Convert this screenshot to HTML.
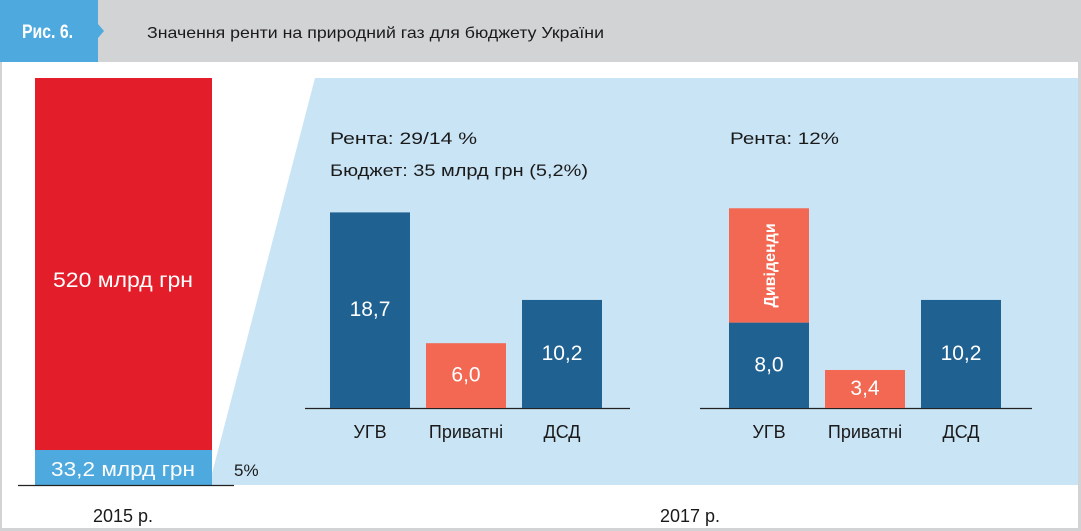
<!DOCTYPE html>
<html><head><meta charset="utf-8"><style>
html,body{margin:0;padding:0;background:#fff}
svg{display:block;font-family:"Liberation Sans",sans-serif}
</style></head><body>
<svg width="1081" height="531" viewBox="0 0 1081 531" id="chart">
<rect x="0" y="0" width="1081" height="531" fill="#fff"/>
<rect x="0" y="62" width="2" height="469" fill="#d2d3d5"/>
<rect x="1078" y="62" width="3" height="469" fill="#d2d3d5"/>
<rect x="0" y="528" width="1081" height="3" fill="#d2d3d5"/>
<rect x="0" y="0" width="1081" height="62" fill="#d2d3d5"/>
<polygon points="0,0 98,0 98,24 104,31 98,38 98,62 0,62" fill="#4eaade"/>
<text x="22" y="38" font-size="19" font-weight="bold" fill="#fff" textLength="51" lengthAdjust="spacingAndGlyphs">Рис. 6.</text>
<text x="147" y="38" font-size="16" fill="#1a1a1a" textLength="457" lengthAdjust="spacingAndGlyphs">Значення ренти на природний газ для бюджету України</text>
<polygon points="315,78 1078,78 1078,485 209,485" fill="#c9e4f5"/>
<rect x="35" y="78" width="177" height="372" fill="#e31e2a"/>
<rect x="35" y="450" width="177" height="35" fill="#4eaade"/>
<line x1="18" y1="485.5" x2="234" y2="485.5" stroke="#222" stroke-width="1.3"/>
<text x="123" y="287" font-size="21" fill="#fff" text-anchor="middle" textLength="140" lengthAdjust="spacingAndGlyphs">520 млрд грн</text>
<text x="123" y="476" font-size="20" fill="#fff" text-anchor="middle" textLength="144" lengthAdjust="spacingAndGlyphs">33,2 млрд грн</text>
<text x="234" y="476" font-size="17" fill="#1a1a1a">5%</text>
<text x="123" y="522" font-size="18" fill="#1a1a1a" text-anchor="middle">2015 р.</text>
<text x="690" y="522" font-size="18" fill="#1a1a1a" text-anchor="middle">2017 р.</text>
<text x="330" y="144" font-size="17" fill="#1a1a1a" textLength="147" lengthAdjust="spacingAndGlyphs">Рента:  29/14 %</text>
<text x="330" y="176" font-size="17" fill="#1a1a1a" textLength="258" lengthAdjust="spacingAndGlyphs">Бюджет: 35 млрд грн (5,2%)</text>
<text x="730" y="144" font-size="17" fill="#1a1a1a" textLength="109" lengthAdjust="spacingAndGlyphs">Рента:  12%</text>
<g id="bars"></g>
</svg>
<script>
const categories = ["УГВ", "Приватні", "ДСД"];
const panel1Values = [18.7, 6.0, 10.2];
const panel2Values = [8.0, 3.4, 10.2];
const panel2Dividends = [11.1, 0, 0];
const valueLabels1 = ["18,7", "6,0", "10,2"];
const valueLabels2 = ["8,0", "3,4", "10,2"];
const seriesColors = ["#1f6190", "#f26852", "#1f6190"];

const NS = "http://www.w3.org/2000/svg";
const g = document.getElementById("bars");
const baseY = 408, pxPerUnit = 10.3, pxOffset = 3, barW = 80;
function y(v){ return baseY - (v * pxPerUnit + pxOffset); }
function mk(tag, attrs){ const e = document.createElementNS(NS, tag); for (const k in attrs) e.setAttribute(k, attrs[k]); g.appendChild(e); return e; }

function drawPanel(x0, vals, labels, divs, axisX1, axisX2, pid){
  const ax = mk("line", {x1: axisX1, y1: baseY + 0.5, x2: axisX2, y2: baseY + 0.5, stroke: "#222", "stroke-width": 1.3});
  
  
  vals.forEach((v, i) => {
    const x = x0 + i * 96;
    const r = mk("rect", {x: x, y: y(v), width: barW, height: baseY - y(v), fill: seriesColors[i]});
    
    
    const t = mk("text", {x: x + barW / 2, y: (y(v) + baseY) / 2 + 6, "font-size": 21, fill: "#fff", "text-anchor": "middle"});
    t.textContent = labels[i];
    
    
    if (divs && divs[i] > 0) {
      const top = y(v) - divs[i] * pxPerUnit;
      const d = mk("rect", {x: x, y: top, width: barW, height: y(v) - top, fill: "#f26852"});
      
      
      const cx = x + barW / 2 + 6, cy = (top + y(v)) / 2;
      const dt = mk("text", {x: cx, y: cy, "font-size": 16, "font-weight": "bold", fill: "#fff", "text-anchor": "middle", transform: "rotate(-90 " + cx + " " + cy + ")"});
      dt.textContent = "Дивіденди";
      
      
    }
    const c = mk("text", {x: x + barW / 2, y: 438, "font-size": 18, fill: "#1a1a1a", "text-anchor": "middle"});
    c.textContent = categories[i];
    
    
  });
}
drawPanel(330, panel1Values, valueLabels1, null, 305, 630, 'p1');
drawPanel(729, panel2Values, valueLabels2, panel2Dividends, 700, 1032, 'p2');
</script>
</body></html>
